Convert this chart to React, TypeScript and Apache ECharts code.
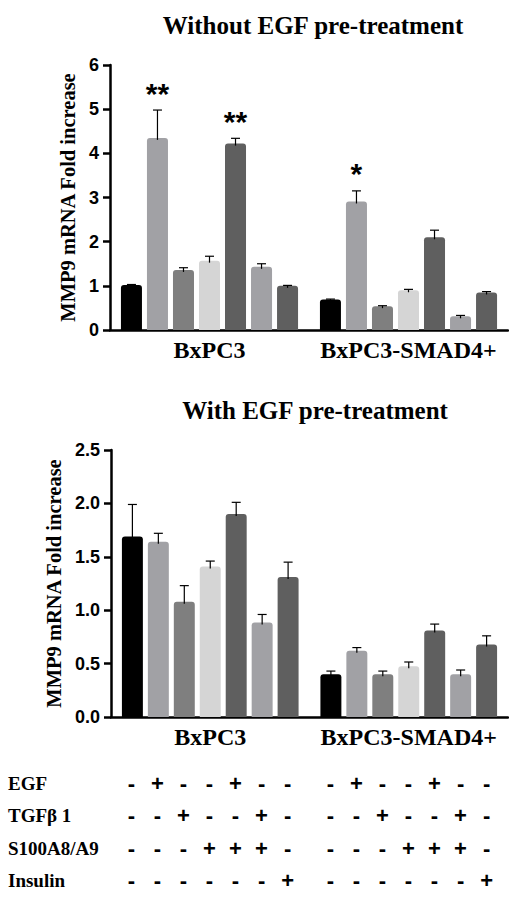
import React, { useEffect, useRef } from 'react';
import * as echarts from 'echarts';

const cellLines = ['BxPC3', 'BxPC3-SMAD4+'];
const treatments = ['Control', 'EGF', 'TGFβ1', 'S100A8/A9', 'EGF+S100A8/A9', 'TGFβ1+S100A8/A9', 'Insulin'];
const barColors = ['#000000', '#a1a1a5', '#7f7f7f', '#d5d5d5', '#5f5f5f', '#a1a1a5', '#5f5f5f'];

// Without EGF pre-treatment: [BxPC3, BxPC3-SMAD4+] per treatment
const withoutMean = [[1.02, 0.69], [4.35, 2.91], [1.36, 0.54], [1.57, 0.9], [4.22, 2.1], [1.43, 0.31], [1.0, 0.85]];
const withoutErrTop = [[1.03, 0.7], [4.98, 3.15], [1.41, 0.55], [1.67, 0.92], [4.34, 2.26], [1.5, 0.33], [1.01, 0.87]];
const withoutSig = [['', ''], ['**', '*'], ['', ''], ['', ''], ['**', ''], ['', ''], ['', '']];

// With EGF pre-treatment
const withMean = [[1.69, 0.4], [1.64, 0.62], [1.08, 0.4], [1.41, 0.475], [1.9, 0.81], [0.885, 0.4], [1.31, 0.68]];
const withErrTop = [[1.99, 0.43], [1.72, 0.65], [1.23, 0.43], [1.46, 0.515], [2.01, 0.87], [0.96, 0.44], [1.45, 0.76]];
const withSig = [['', ''], ['', ''], ['', ''], ['', ''], ['', ''], ['', ''], ['', '']];

const topTicks = { min: 0, max: 6, interval: 1 };
const bottomTicks = { min: 0, max: 2.5, interval: 0.5 };

const conditionRows = ['EGF', 'TGFβ 1', 'S100A8/A9', 'Insulin'];
const conditionSigns = [
  ['-', '+', '-', '-', '+', '-', '-'],
  ['-', '-', '+', '-', '-', '+', '-'],
  ['-', '-', '-', '+', '+', '+', '-'],
  ['-', '-', '-', '-', '-', '-', '+'],
];

const SERIF = 'Liberation Serif';
const SANS = 'Liberation Sans';
const CAT_GAP = 0.11;
const BAR_GAP = 0.238;
const N = treatments.length;

function barSeries(g: number, means: number[][]) {
  return treatments.map((t, i) => ({
    type: 'bar',
    name: t,
    xAxisIndex: g,
    yAxisIndex: g,
    data: means[i],
    barGap: BAR_GAP * 100 + '%',
    barCategoryGap: CAT_GAP * 100 + '%',
    itemStyle: { color: barColors[i], borderRadius: [3, 3, 0, 0] },
  }));
}

function errorSeries(g: number, means: number[][], errs: number[][], sigs: string[][]) {
  const data: number[][] = [];
  treatments.forEach((_, i) => {
    cellLines.forEach((__, c) => {
      data.push([c, i, means[i][c], errs[i][c]]);
    });
  });
  return {
    type: 'custom',
    xAxisIndex: g,
    yAxisIndex: g,
    z: 5,
    data,
    renderItem: (params: any, api: any) => {
      const c = api.value(0);
      const i = api.value(1);
      const m = api.value(2);
      const e = api.value(3);
      const band = api.size([1, 0])[0];
      const groupW = band * (1 - CAT_GAP);
      const w = groupW / (N + (N - 1) * BAR_GAP);
      const base = api.coord([c, m]);
      const x = base[0] - groupW / 2 + w / 2 + i * w * (1 + BAR_GAP);
      const yBar = base[1] + 2;
      const yErr = api.coord([c, e])[1];
      const children: any[] = [
        { type: 'line', shape: { x1: x, y1: yBar, x2: x, y2: yErr }, style: { stroke: '#000', lineWidth: 1.2 } },
        { type: 'line', shape: { x1: x - 4.5, y1: yErr, x2: x + 4.5, y2: yErr }, style: { stroke: '#000', lineWidth: 1.2 } },
      ];
      const s = sigs[i][c];
      if (s) {
        children.push({
          type: 'text',
          style: {
            x,
            y: yErr - 17,
            text: s,
            fill: '#000',
            font: `bold 30px ${SANS}`,
            textAlign: 'center',
            textVerticalAlign: 'middle',
          },
        });
      }
      return { type: 'group', children };
    },
  };
}

function signSeries() {
  const out: any[] = [];
  treatments.forEach((t, i) => {
    conditionRows.forEach((r, k) => {
      out.push({
        type: 'bar',
        name: `${t}-${r}`,
        xAxisIndex: 2,
        yAxisIndex: 2,
        stack: 'cond' + i,
        data: cellLines.map(() => 1),
        barGap: BAR_GAP * 100 + '%',
        barCategoryGap: CAT_GAP * 100 + '%',
        itemStyle: { color: 'rgba(0,0,0,0)' },
        silent: true,
        label: {
          show: true,
          position: 'inside',
          formatter: () => conditionSigns[k][i],
          color: '#000',
          fontFamily: SANS,
          fontWeight: 'bold',
          fontSize: 22,
        },
      });
    });
  });
  return out;
}

const axisLineStyle = { color: '#000', width: 2.5 };

function valueAxis(g: number, ticks: any, nameGap: number, fmt: (v: number) => string) {
  return {
    type: 'value',
    gridIndex: g,
    position: 'left',
    min: ticks.min,
    max: ticks.max,
    interval: ticks.interval,
    name: 'MMP9 mRNA Fold increase',
    nameLocation: 'middle',
    nameGap,
    nameTextStyle: { fontFamily: SERIF, fontWeight: 'bold', fontSize: 20.5, color: '#000' },
    axisLine: { show: true, lineStyle: axisLineStyle },
    axisTick: { show: true, length: 7, lineStyle: axisLineStyle },
    splitLine: { show: false },
    axisLabel: { fontFamily: SANS, fontWeight: 'bold', fontSize: 18, color: '#000', margin: 11, formatter: fmt },
  };
}

function catAxis(g: number) {
  return {
    type: 'category',
    gridIndex: g,
    position: 'bottom',
    data: cellLines,
    axisLine: { show: true, lineStyle: axisLineStyle },
    axisTick: { show: false },
    axisLabel: { fontFamily: SERIF, fontWeight: 'bold', fontSize: 24, color: '#000', margin: 8, interval: 0 },
  };
}

export default function App() {
  const ref = useRef<HTMLDivElement>(null);
  useEffect(() => {
    if (!ref.current) return;
    const chart = echarts.init(ref.current, undefined, { renderer: 'svg' });
    const option: any = {
      animation: false,
      backgroundColor: '#ffffff',
      title: [
        {
          text: 'Without EGF pre-treatment',
          left: 308,
          top: 8,
          textAlign: 'center',
          textStyle: { fontFamily: SERIF, fontWeight: 'bold', fontSize: 25, color: '#000' },
        },
        {
          text: 'With EGF pre-treatment',
          left: 310,
          top: 393,
          textAlign: 'center',
          textStyle: { fontFamily: SERIF, fontWeight: 'bold', fontSize: 25, color: '#000' },
        },
      ],
      grid: [
        { left: 110, width: 398, top: 65, height: 265 },
        { left: 111, width: 397, top: 450, height: 267 },
        { left: 110, width: 398, top: 767, height: 137 },
      ],
      xAxis: [
        catAxis(0),
        catAxis(1),
        { type: 'category', gridIndex: 2, position: 'bottom', data: cellLines, show: false },
      ],
      yAxis: [
        valueAxis(0, topTicks, 27, (v: number) => String(v)),
        valueAxis(1, bottomTicks, 45, (v: number) => v.toFixed(1)),
        { type: 'value', gridIndex: 2, position: 'left', min: 0, max: 4, inverse: true, show: false },
        {
          type: 'category',
          gridIndex: 2,
          position: 'left',
          offset: 0,
          data: conditionRows,
          inverse: true,
          axisLine: { show: false },
          axisTick: { show: false },
          axisLabel: { align: 'left', margin: 102, fontFamily: SERIF, fontWeight: 'bold', fontSize: 19, color: '#000' },
        },
      ],
      series: [
        ...barSeries(0, withoutMean),
        errorSeries(0, withoutMean, withoutErrTop, withoutSig),
        ...barSeries(1, withMean),
        errorSeries(1, withMean, withErrTop, withSig),
        ...signSeries(),
      ],
    };
    chart.setOption(option);
    return () => chart.dispose();
  }, []);
  return <div ref={ref} style={{ position: 'fixed', left: 0, top: 0, width: 509, height: 897 }} />;
}
